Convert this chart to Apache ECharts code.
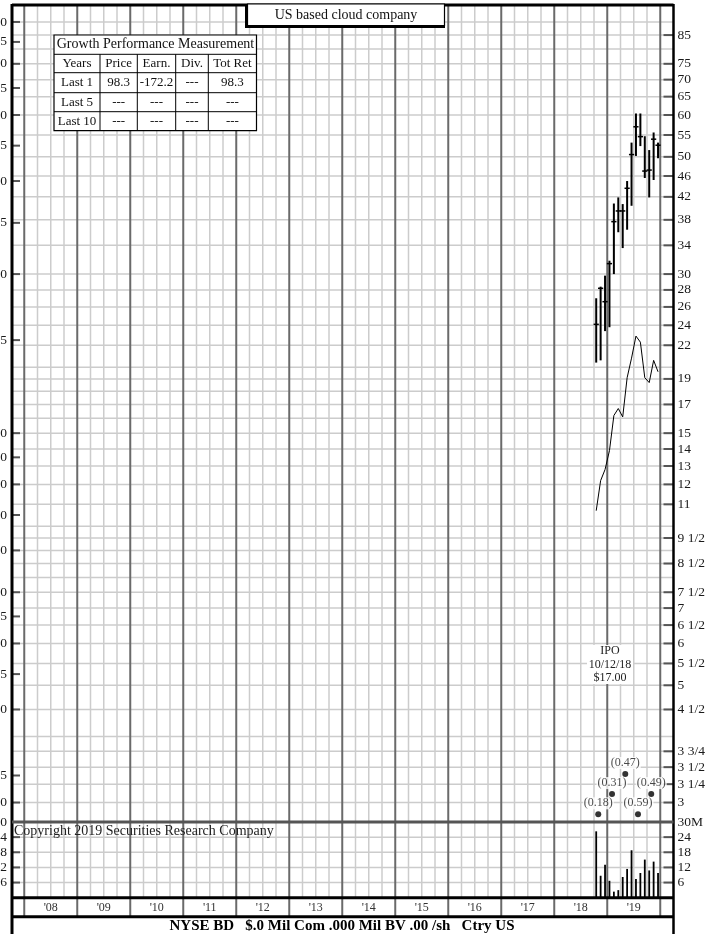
<!DOCTYPE html>
<html><head><meta charset="utf-8">
<script src="https://cdn.jsdelivr.net/npm/echarts@6/dist/echarts.min.js"></script>
<style>html,body{margin:0;padding:0;background:#fff}#c{width:720px;height:934px}</style>
</head><body><div id="c"></div>
<script>
// ---------------- data ----------------
const months = ['2018-10','2018-11','2018-12','2019-01','2019-02','2019-03','2019-04','2019-05','2019-06','2019-07','2019-08','2019-09','2019-10','2019-11','2019-12'];
const priceHigh  = [27.0, 28.4, 29.8, 31.8, 40.8, 41.9, 40.7, 45.0, 53.2, 60.4, 60.4, 54.7, 51.5, 55.6, 53.2];
const priceLow   = [20.4, 20.6, 23.4, 23.8, 30.0, 36.0, 33.6, 36.4, 40.4, 50.2, 52.4, 45.6, 41.9, 45.2, 49.7];
const priceClose = [24.1, 28.2, 26.6, 31.4, 37.7, 39.5, 39.5, 43.6, 50.5, 57.0, 54.6, 47.0, 47.2, 54.0, 52.6];
const relStrength = [10.7, 12.2, 12.8, 13.9, 16.2, 16.7, 16.1, 19.1, 20.8, 22.9, 22.3, 19.1, 18.7, 20.6, 19.6];
const volumeM = [26.3, 8.7, 13.1, 6.7, 2.4, 3.0, 8.2, 11.4, 18.8, 7.4, 9.8, 15.1, 10.8, 14.3, 9.8];

const epsQuarters = [2018.83, 2019.09, 2019.34, 2019.58, 2019.83];
const epsLevels   = [0.190, 0.2075, 0.2265, 0.190, 0.2075];
const epsLabels   = ['(0.18)', '(0.31)', '(0.47)', '(0.59)', '(0.49)'];

const rightTickValues = [85,75,70,65,60,55,50,46,42,38,34,30,28,26,24,22,19,17,15,14,13,12,11,9.5,8.5,7.5,7,6.5,6,5.5,5,4.5,3.75,3.5,3.25,3];
const rightTickLabels = ['85','75','70','65','60','55','50','46','42','38','34','30','28','26','24','22','19','17','15','14','13','12','11','9 1/2','8 1/2','7 1/2','7','6 1/2','6','5 1/2','5','4 1/2','3 3/4','3 1/2','3 1/4','3'];
const leftTickValues = [6.0,5.5,5.0,4.5,4.0,3.5,3.0,2.5,2.0,1.5,1.0,0.9,0.8,0.7,0.6,0.5,0.45,0.4,0.35,0.3,0.225,0.2];
const leftTickLabels = ['6.0','5.5','5.0','4.5','4.0','3.5','3.0','2.5','2.0','1.5','1.00','.90','.80','.70','.60','.50','.45','.40','.35','.30','.225','.20'];
const priceGridValues = [90,85,80,75,70,65,60,55,50,46,42,38,34,30,28,26,24,22,20,19,18,17,16,15,14,13,12,11,10,9.5,9,8.5,8,7.5,7,6.5,6,5.5,5,4.5,4,3.75,3.5,3.25,3];
const volumeTickValues = [30,24,18,12,6];
const volumeRightLabels = ['30M','24','18','12','6'];
const volumeLeftLabels = ['30','24','18','12','6'];
const volumeGridValues = [24,18,12,6];
const years = [2008,2009,2010,2011,2012,2013,2014,2015,2016,2017,2018,2019];
const yearLabels = ["'08","'09","'10","'11","'12","'13","'14","'15","'16","'17","'18","'19"];

const tableHeader = ['Years','Price','Earn.','Div.','Tot Ret'];
const tableRows = [
  ['Last 1','98.3','-172.2','---','98.3'],
  ['Last 5','---','---','---','---'],
  ['Last 10','---','---','---','---']
];

// ---------------- scales ----------------
const X_MIN = 2007.75, X_MAX = 2020.25;
const PRICE_MIN = 2.756, PRICE_MAX = 96.9;
const EPS_RATIO = 15;
const FONT = '"Liberation Serif", "DejaVu Serif", serif';

const toT = s => { const p = s.split('-').map(Number); return p[0] + (p[1] - 0.5) / 12; };
const monthT = months.map(toT);

// grid line positions (calendar structure)
const yearBounds = [];
for (let y = 2008; y <= 2020; y++) yearBounds.push(y);
const quarterLines = [];
for (let y = 2008; y <= 2019; y++) [0.25, 0.5, 0.75].forEach(q => quarterLines.push(y + q));

const chart = echarts.init(document.getElementById('c'), null, {renderer: 'canvas'});

function vLines(values, color, width, extendBottom) {
  return function (params, api) {
    const cs = params.coordSys;
    const x = api.coord([api.value(0), api.value(1)])[0];
    return {type: 'line', shape: {x1: x, y1: cs.y, x2: x, y2: cs.y + cs.height + (extendBottom || 0)},
      style: {stroke: color, lineWidth: width}};
  };
}
function hLines(color, width) {
  return function (params, api) {
    const cs = params.coordSys;
    const y = api.coord([api.value(0), api.value(1)])[1];
    return {type: 'line', shape: {x1: cs.x, y1: y, x2: cs.x + cs.width, y2: y},
      style: {stroke: color, lineWidth: width}};
  };
}
function rightTicks(labels) {
  return function (params, api) {
    const p = api.coord([api.value(0), api.value(1)]);
    return {type: 'group', children: [
      {type: 'line', shape: {x1: p[0] - 10, y1: p[1], x2: p[0], y2: p[1]}, style: {stroke: '#555', lineWidth: 2}},
      {type: 'text', x: p[0] + 4, y: p[1], style: {text: labels[params.dataIndex], font: '13.5px ' + FONT, fill: '#1a1a1a', textAlign: 'left', textVerticalAlign: 'middle'}}
    ]};
  };
}
function leftTicks(labels) {
  return function (params, api) {
    const p = api.coord([api.value(0), api.value(1)]);
    return {type: 'group', children: [
      {type: 'line', shape: {x1: p[0], y1: p[1], x2: p[0] + 9, y2: p[1]}, style: {stroke: '#555', lineWidth: 2}},
      {type: 'text', x: p[0] - 4, y: p[1], style: {text: labels[params.dataIndex], font: '13.5px ' + FONT, fill: '#1a1a1a', textAlign: 'right', textVerticalAlign: 'middle'}}
    ]};
  };
}

const series = [
  // price panel grid
  {type: 'custom', xAxisIndex: 0, yAxisIndex: 0, z: 1, silent: true, renderItem: hLines('#cccccc', 1.5),
    data: priceGridValues.map(v => [X_MIN, v])},
  {type: 'custom', xAxisIndex: 0, yAxisIndex: 0, z: 1, silent: true, renderItem: vLines(null, '#cccccc', 1.5),
    data: quarterLines.map(q => [q, PRICE_MIN])},
  {type: 'custom', xAxisIndex: 0, yAxisIndex: 0, z: 2, silent: true, renderItem: vLines(null, '#6a6a6a', 2),
    data: yearBounds.map(q => [q, PRICE_MIN])},
  // volume panel grid
  {type: 'custom', xAxisIndex: 1, yAxisIndex: 1, z: 1, silent: true, renderItem: hLines('#cccccc', 1.5),
    data: volumeGridValues.map(v => [X_MIN, v])},
  {type: 'custom', xAxisIndex: 1, yAxisIndex: 1, z: 1, silent: true, renderItem: vLines(null, '#cccccc', 1.5),
    data: quarterLines.map(q => [q, 0])},
  {type: 'custom', xAxisIndex: 1, yAxisIndex: 1, z: 2, silent: true, renderItem: vLines(null, '#6a6a6a', 2, 19),
    data: yearBounds.map(q => [q, 0])},
  // year labels
  {type: 'custom', xAxisIndex: 1, yAxisIndex: 1, z: 3, silent: true,
    renderItem: function (params, api) {
      const p = api.coord([api.value(0), api.value(1)]);
      return {type: 'text', x: p[0], y: p[1] + 10, style: {text: yearLabels[params.dataIndex], font: '12px ' + FONT, fill: '#333', textAlign: 'center', textVerticalAlign: 'middle'}};
    },
    data: years.map(y => [y + 0.5, 0])},
  // right axis ticks/labels
  {type: 'custom', xAxisIndex: 0, yAxisIndex: 0, z: 6, silent: true, renderItem: rightTicks(rightTickLabels),
    data: rightTickValues.map(v => [X_MAX, v])},
  {type: 'custom', xAxisIndex: 1, yAxisIndex: 1, z: 6, silent: true, renderItem: rightTicks(volumeRightLabels),
    data: volumeTickValues.map(v => [X_MAX, v])},
  // left axis ticks/labels (earnings scale)
  {type: 'custom', xAxisIndex: 0, yAxisIndex: 2, z: 6, silent: true, renderItem: leftTicks(leftTickLabels),
    data: leftTickValues.map(v => [X_MIN, v])},
  {type: 'custom', xAxisIndex: 1, yAxisIndex: 1, z: 6, silent: true, renderItem: leftTicks(volumeLeftLabels),
    data: volumeTickValues.map(v => [X_MIN, v])},
  // price bars
  {type: 'custom', xAxisIndex: 0, yAxisIndex: 0, z: 5,
    renderItem: function (params, api) {
      const t = api.value(0);
      const h = api.coord([t, api.value(1)]);
      const l = api.coord([t, api.value(2)]);
      const c = api.coord([t, api.value(3)]);
      return {type: 'group', children: [
        {type: 'line', shape: {x1: h[0], y1: h[1], x2: l[0], y2: l[1]}, style: {stroke: '#000', lineWidth: 2}},
        {type: 'line', shape: {x1: c[0] - 2.6, y1: c[1], x2: c[0] + 2.6, y2: c[1]}, style: {stroke: '#000', lineWidth: 1.5}}
      ]};
    },
    encode: {x: 0, y: [1, 2, 3]},
    data: monthT.map((t, i) => [t, priceHigh[i], priceLow[i], priceClose[i]])},
  // relative strength line
  {type: 'line', xAxisIndex: 0, yAxisIndex: 0, z: 5, symbol: 'none', silent: true,
    lineStyle: {color: '#000', width: 1}, data: monthT.map((t, i) => [t, relStrength[i]])},
  // quarterly earnings dots
  {type: 'scatter', xAxisIndex: 0, yAxisIndex: 2, z: 7, symbolSize: 6, itemStyle: {color: '#000'}, silent: true,
    label: {show: true, position: 'top', distance: 2, formatter: '{b}', fontFamily: FONT, fontSize: 12, color: '#1a1a1a', backgroundColor: '#fff', padding: [0, 1]},
    data: epsQuarters.map((q, i) => ({name: epsLabels[i], value: [q, epsLevels[i]]}))},
  // volume bars
  {type: 'custom', xAxisIndex: 1, yAxisIndex: 1, z: 5,
    renderItem: function (params, api) {
      const t = api.value(0);
      const top = api.coord([t, api.value(1)]);
      const base = api.coord([t, 0]);
      return {type: 'rect', shape: {x: top[0] - 0.9, y: top[1], width: 1.8, height: base[1] - top[1]}, style: {fill: '#000'}};
    },
    data: monthT.map((t, i) => [t, volumeM[i]])}
];

// ---------------- annotations (graphic) ----------------
const graphic = [];
const L = 12, R = 673.5;
// borders
graphic.push({type: 'line', z: 50, shape: {x1: L, y1: 4, x2: L, y2: 934}, style: {stroke: '#000', lineWidth: 3}});
graphic.push({type: 'line', z: 50, shape: {x1: R, y1: 4, x2: R, y2: 934}, style: {stroke: '#000', lineWidth: 2.5}});
graphic.push({type: 'line', z: 50, shape: {x1: L, y1: 5, x2: R, y2: 5}, style: {stroke: '#000', lineWidth: 3}});
graphic.push({type: 'line', z: 50, shape: {x1: L, y1: 822, x2: R, y2: 822}, style: {stroke: '#555', lineWidth: 3}});
graphic.push({type: 'line', z: 50, shape: {x1: L, y1: 897.7, x2: R, y2: 897.7}, style: {stroke: '#000', lineWidth: 3}});
graphic.push({type: 'line', z: 50, shape: {x1: L, y1: 916.7, x2: R, y2: 916.7}, style: {stroke: '#000', lineWidth: 3}});

// title box
graphic.push({type: 'rect', z: 60, shape: {x: 245, y: 5, width: 200, height: 23}, style: {fill: '#000'}});
graphic.push({type: 'rect', z: 61, shape: {x: 247.5, y: 4, width: 197, height: 21.5}, style: {fill: '#fff', stroke: '#000', lineWidth: 1.2}});
graphic.push({type: 'text', z: 62, x: 346, y: 15.5, style: {text: 'US based cloud company', font: '14px ' + FONT, fill: '#111', textAlign: 'center', textVerticalAlign: 'middle'}});

// growth table
const colX = [54, 100, 137.3, 175.7, 208.3, 256.5];
const rowY = [35, 54.3, 72.7, 92.7, 111.7, 130.7];
graphic.push({type: 'rect', z: 60, shape: {x: colX[0], y: rowY[0], width: colX[5] - colX[0], height: rowY[5] - rowY[0]}, style: {fill: '#fff', stroke: '#000', lineWidth: 1.2}});
for (let r = 1; r < 5; r++) graphic.push({type: 'line', z: 61, shape: {x1: colX[0], y1: rowY[r], x2: colX[5], y2: rowY[r]}, style: {stroke: '#000', lineWidth: 1}});
for (let c = 1; c < 5; c++) graphic.push({type: 'line', z: 61, shape: {x1: colX[c], y1: rowY[1], x2: colX[c], y2: rowY[5]}, style: {stroke: '#000', lineWidth: 1}});
graphic.push({type: 'text', z: 62, x: 155.5, y: (rowY[0] + rowY[1]) / 2, style: {text: 'Growth Performance Measurement', font: '14px ' + FONT, fill: '#111', textAlign: 'center', textVerticalAlign: 'middle', width: 200, overflow: 'truncate', ellipsis: ''}});
[tableHeader].concat(tableRows).forEach((row, r) => {
  row.forEach((txt, c) => {
    graphic.push({type: 'text', z: 62, x: (colX[c] + colX[c + 1]) / 2, y: (rowY[r + 1] + rowY[r + 2]) / 2,
      style: {text: txt, font: '13px ' + FONT, fill: '#111', textAlign: 'center', textVerticalAlign: 'middle'}});
  });
});

// IPO note
graphic.push({type: 'rect', z: 60, shape: {x: 587, y: 645, width: 46, height: 39}, style: {fill: '#fff'}});
graphic.push({type: 'text', z: 61, x: 610, y: 664.5, style: {text: 'IPO\n10/12/18\n$17.00', font: '12px ' + FONT, lineHeight: 13.5, fill: '#222', textAlign: 'center', textVerticalAlign: 'middle'}});

// copyright & footer
graphic.push({type: 'text', z: 60, x: 14, y: 831, style: {text: 'Copyright 2019 Securities Research Company', font: '14px ' + FONT, fill: '#222', textAlign: 'left', textVerticalAlign: 'middle'}});
graphic.push({type: 'text', z: 60, x: 342, y: 926, style: {text: 'NYSE BD   $.0 Mil Com .000 Mil BV .00 /sh   Ctry US', font: 'bold 15px ' + FONT, fill: '#000', textAlign: 'center', textVerticalAlign: 'middle'}});

const option = {
  animation: false,
  backgroundColor: '#fff',
  grid: [
    {left: 11, width: R - 11, top: 5, height: 817},
    {left: 11, width: R - 11, top: 822, height: 75.7}
  ],
  xAxis: [
    {type: 'value', gridIndex: 0, min: X_MIN, max: X_MAX, show: false},
    {type: 'value', gridIndex: 1, min: X_MIN, max: X_MAX, show: false}
  ],
  yAxis: [
    {type: 'log', logBase: 10, gridIndex: 0, min: PRICE_MIN, max: PRICE_MAX, show: false},
    {type: 'value', gridIndex: 1, min: 0, max: 30, show: false},
    {type: 'log', logBase: 10, gridIndex: 0, min: PRICE_MIN / EPS_RATIO, max: PRICE_MAX / EPS_RATIO, show: false}
  ],
  series: series,
  graphic: graphic
};
chart.setOption(option);
</script>
</body></html>
